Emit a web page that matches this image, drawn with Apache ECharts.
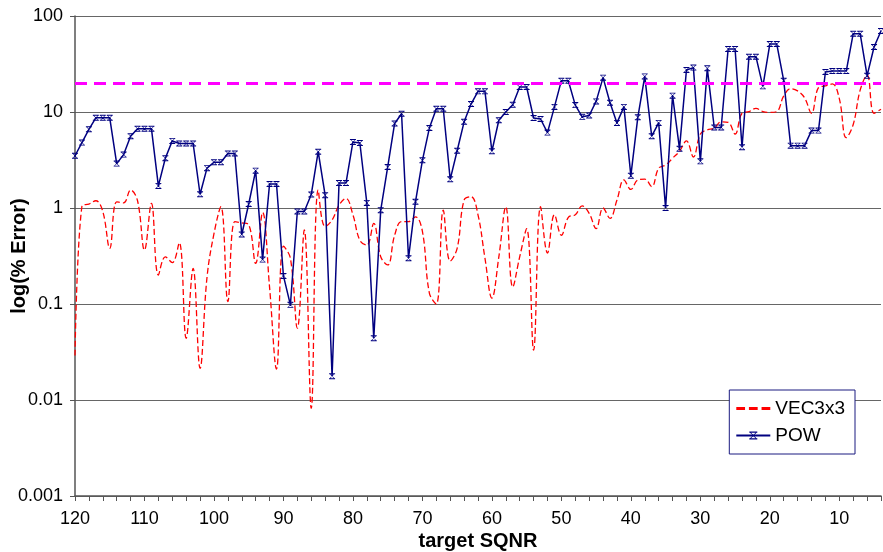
<!DOCTYPE html>
<html>
<head>
<meta charset="utf-8">
<script src="https://cdn.jsdelivr.net/npm/echarts@6/dist/echarts.min.js"></script>
<style>
html,body{margin:0;padding:0;background:#fff;}
#chart{width:883px;height:552px;}
</style>
</head>
<body>
<div id="chart"></div>
<script>
const categories = [120,119,118,117,116,115,114,113,112,111,110,109,108,107,106,105,104,103,102,101,100,99,98,97,96,95,94,93,92,91,90,89,88,87,86,85,84,83,82,81,80,79,78,77,76,75,74,73,72,71,70,69,68,67,66,65,64,63,62,61,60,59,58,57,56,55,54,53,52,51,50,49,48,47,46,45,44,43,42,41,40,39,38,37,36,35,34,33,32,31,30,29,28,27,26,25,24,23,22,21,20,19,18,17,16,15,14,13,12,11,10,9,8,7,6,5,4];

const vec3x3 = [0.029,1.05,1.1,1.19,0.92,0.38,1.16,1.13,1.54,1.19,
  0.365,1.12,0.2,0.31,0.27,0.435,0.044,0.235,0.0214,0.19,
  0.54,1.03,0.106,0.72,0.70,0.67,0.265,0.90,0.15,0.021,
  0.4,0.30,0.056,0.59,0.0082,1.54,0.64,0.75,1.07,1.26,
  0.85,0.46,0.41,0.69,0.31,0.255,0.52,0.72,0.72,0.81,
  0.57,0.13,0.10,0.95,0.28,0.38,1.21,1.31,0.85,0.3,
  0.115,0.31,1.03,0.15,0.31,0.61,0.033,1.03,0.34,0.85,
  0.52,0.80,0.85,1.05,0.88,0.61,1.0,0.78,1.21,1.96,
  1.56,1.96,2.0,1.67,2.6,2.8,3.3,3.9,5.0,3.4,
  5.9,6.5,6.8,7.9,7.8,5.9,9.7,10.1,10.9,10.1,
  9.9,10.1,14.7,17.5,16.6,14.1,9.7,17.9,18.7,19.6,
  13.8,5.4,7.4,16.9,24.3,9.7,10.7];

const pow = [3.5,4.8,6.6,8.7,8.7,8.7,2.9,3.6,5.6,6.7,
  6.7,6.7,1.7,3.3,5.0,4.7,4.7,4.7,1.39,2.6,
  3.0,3.0,3.7,3.7,0.53,1.1,2.45,0.29,1.78,1.78,
  0.196,0.098,0.92,0.92,1.38,3.86,1.36,0.0177,1.82,1.82,
  4.87,4.75,1.13,0.044,0.95,2.67,7.6,9.6,0.30,1.16,
  3.14,6.8,10.8,10.8,1.99,3.95,7.9,12.1,16.4,16.4,
  3.9,8.2,10.0,11.9,18.2,18.2,8.66,8.45,6.1,11.3,
  21.2,21.2,11.8,8.9,9.2,12.9,22.8,12.5,7.7,11.3,
  2.17,8.8,23.5,5.6,7.7,1.0,14.8,4.15,27.4,29,
  3.06,28.5,6.9,6.9,45.3,45.3,4.3,37.7,37.7,18.5,
  51,51,21.2,4.46,4.46,4.46,6.4,6.4,26.1,26.7,
  26.7,26.7,65.4,65.4,23.9,47.5,69.8];

const threshold = 20;
const yTickLabels = ['0.001','0.01','0.1','1','10','100'];

const FONT = '"Liberation Sans", Arial, sans-serif';
const xMarker = 'path://M0,0H10V1.6H0Z M0,8.4H10V10H0Z M0.6,0L10,9.4L9.4,10L0,0.6Z M9.4,0L10,0.6L0.6,10L0,9.4Z';
const dashIcon = 'path://M0,0H9V3H0Z M13,0H22V3H13Z M26,0H35V3H26Z';

const chart = echarts.init(document.getElementById('chart'), null, {renderer:'canvas'});
chart.setOption({
  animation:false,
  backgroundColor:'#ffffff',
  textStyle:{fontFamily:FONT},
  grid:{left:75, right:2, top:16, bottom:56, containLabel:false, outerBoundsMode:'none'},
  legend:{
    orient:'vertical',
    right:28, top:390,
    width:110,
    padding:[9,10,9,6],
    itemGap:8,
    itemWidth:34, itemHeight:10,
    backgroundColor:'#ffffff',
    borderColor:'#1a1a80', borderWidth:1, borderRadius:0,
    textStyle:{fontFamily:FONT, fontSize:19, color:'#000'},
    data:[
      {name:'VEC3x3', icon:dashIcon, itemStyle:{color:'#ff0000'}},
      {name:'POW'}
    ]
  },
  xAxis:{
    type:'category',
    data:categories,
    boundaryGap:false,
    name:'target SQNR',
    nameLocation:'middle',
    nameGap:35,
    nameMoveOverlap:false,
    nameTextStyle:{fontFamily:FONT, fontSize:20, fontWeight:'bold', color:'#000'},
    axisLine:{lineStyle:{color:'#555', width:1.5}},
    axisTick:{show:true, interval:1, length:5, inside:false, lineStyle:{color:'#555'}},
    axisLabel:{interval:9, fontSize:18, color:'#000', margin:14, fontFamily:FONT},
    splitLine:{show:false}
  },
  yAxis:{
    type:'log',
    logBase:10,
    min:0.001, max:100,
    name:'log(% Error)',
    nameLocation:'middle',
    nameRotate:90,
    nameGap:46,
    nameMoveOverlap:false,
    nameTextStyle:{fontFamily:FONT, fontSize:20, fontWeight:'bold', color:'#000'},
    axisLine:{show:true, lineStyle:{color:'#555', width:1.5}},
    axisTick:{show:true, length:5, lineStyle:{color:'#555'}},
    axisLabel:{fontSize:18, color:'#000', margin:12, fontFamily:FONT,
      formatter:function(v){
        const e = Math.round(Math.log10(v));
        return yTickLabels[e+3] !== undefined ? yTickLabels[e+3] : '';
      }},
    splitLine:{show:true, lineStyle:{color:'#666', width:1}},
    minorTick:{show:false}
  },
  series:[
    {
      name:'VEC3x3',
      type:'line',
      data:vec3x3,
      smooth:0.4,
      symbol:'none',
      lineStyle:{color:'#ff0000', width:1.3, type:[6,3]},
      itemStyle:{color:'#ff0000'},
      z:2,
      markLine:{
        silent:true,
        symbol:'none',
        label:{show:false},
        lineStyle:{color:'#ff00ff', width:3, type:[12,7]},
        data:[{yAxis:threshold}]
      }
    },
    {
      name:'POW',
      type:'line',
      data:pow,
      symbol:xMarker,
      symbolSize:6,
      showSymbol:true,
      showAllSymbol:true,
      lineStyle:{color:'#000080', width:1.5},
      itemStyle:{color:'#000080', borderWidth:0},
      z:3
    }
  ]
});
</script>
</body>
</html>
